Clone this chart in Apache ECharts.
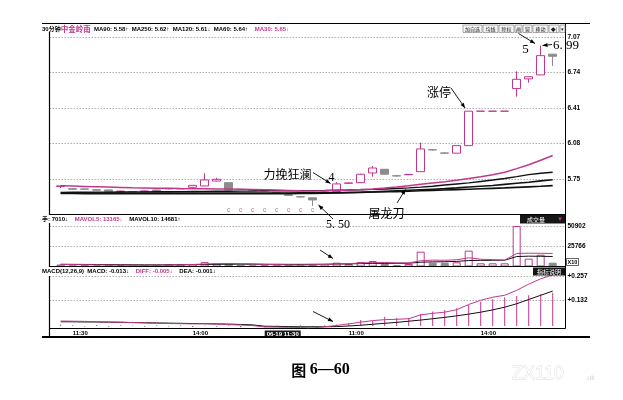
<!DOCTYPE html>
<html><head><meta charset="utf-8">
<script src="https://cdn.jsdelivr.net/npm/echarts@6/dist/echarts.min.js"></script>
<style>html,body{margin:0;padding:0;background:#fff}#c{width:623px;height:400px}</style>
</head><body><div id="c"></div>
<script>
// ---------- DATA ----------
const times = [
 '06-17 11:00','06-17 11:30','06-17 13:30','06-17 14:00','06-17 14:30','06-17 15:00',
 '06-18 10:00','06-18 10:30','06-18 11:00','06-18 11:30','06-18 13:30','06-18 14:00','06-18 14:30','06-18 15:00',
 '06-19 10:00','06-19 10:30','06-19 11:00','06-19 11:30','06-19 13:30','06-19 14:00','06-19 14:30','06-19 15:00',
 '06-20 10:00','06-20 10:30','06-20 11:00','06-20 11:30','06-20 13:30','06-20 14:00','06-20 14:30','06-20 15:00',
 '06-21 10:00','06-21 10:30','06-21 11:00','06-21 11:30','06-21 13:30','06-21 14:00','06-21 14:30','06-21 15:00',
 '06-24 10:00','06-24 10:30','06-24 11:00','06-24 11:30'];
const shownTimeIdx = [1, 11, 17, 24, 35];
const cursorIdx = 17;

const openP  = [5.680,5.660,5.658,5.650,5.648,5.634,5.633,5.636,5.648,5.658,5.658,5.673,5.685,5.731,5.716,5.655,5.648,5.640,5.622,5.602,5.585,5.575,5.625,5.635,5.710,5.716,5.806,5.840,5.780,5.790,5.818,6.022,5.992,5.990,6.060,6.380,6.380,6.380,6.590,6.680,6.717,6.910];
const closeP = [5.686,5.655,5.655,5.646,5.636,5.637,5.631,5.638,5.638,5.662,5.661,5.691,5.741,5.747,5.648,5.652,5.646,5.638,5.620,5.598,5.583,5.555,5.628,5.704,5.713,5.794,5.852,5.794,5.778,5.793,6.029,6.020,5.990,6.060,6.380,6.380,6.380,6.380,6.676,6.700,6.896,6.890];
const lowP   = [5.665,5.650,5.652,5.640,5.632,5.630,5.628,5.633,5.636,5.655,5.656,5.670,5.685,5.728,5.645,5.648,5.642,5.634,5.616,5.595,5.578,5.500,5.620,5.635,5.705,5.712,5.771,5.790,5.770,5.788,5.815,6.012,5.982,5.990,6.060,6.380,6.380,6.380,6.515,6.645,6.717,6.800];
const highP  = [5.690,5.662,5.660,5.652,5.650,5.640,5.636,5.641,5.650,5.665,5.664,5.693,5.803,5.762,5.718,5.658,5.650,5.642,5.625,5.605,5.590,5.578,5.635,5.720,5.718,5.800,5.871,5.842,5.786,5.796,6.087,6.030,5.998,6.062,6.380,6.380,6.380,6.380,6.750,6.700,6.990,6.910];

const ma30  = [5.686,5.684,5.681,5.678,5.675,5.672,5.669,5.667,5.665,5.663,5.661,5.660,5.659,5.658,5.656,5.654,5.652,5.650,5.647,5.644,5.641,5.639,5.640,5.643,5.647,5.652,5.658,5.666,5.676,5.688,5.700,5.712,5.724,5.738,5.754,5.771,5.790,5.812,5.846,5.882,5.924,5.968];
const ma60  = [5.626,5.627,5.627,5.628,5.628,5.629,5.630,5.630,5.631,5.632,5.633,5.634,5.635,5.636,5.636,5.637,5.638,5.640,5.640,5.641,5.641,5.642,5.643,5.645,5.647,5.650,5.653,5.657,5.662,5.667,5.674,5.683,5.694,5.704,5.714,5.727,5.740,5.755,5.772,5.790,5.803,5.812];
const ma120 = [5.615,5.615,5.614,5.614,5.614,5.613,5.613,5.613,5.613,5.613,5.613,5.613,5.613,5.613,5.613,5.613,5.613,5.613,5.614,5.614,5.615,5.616,5.618,5.620,5.623,5.626,5.630,5.635,5.640,5.645,5.650,5.655,5.660,5.667,5.675,5.683,5.690,5.700,5.710,5.720,5.732,5.743];
const ma250 = [5.619,5.619,5.619,5.619,5.619,5.619,5.620,5.620,5.620,5.620,5.620,5.620,5.620,5.620,5.620,5.620,5.620,5.620,5.620,5.620,5.621,5.621,5.622,5.623,5.625,5.627,5.629,5.631,5.633,5.636,5.640,5.643,5.647,5.651,5.655,5.659,5.663,5.667,5.672,5.677,5.682,5.688];

const cMarkIdx = [14,15,16,17,18,19,20,21];
const cMarkPrice = 5.462;

const volume  = [2500,1500,1800,1200,2200,1500,1200,1400,2000,3000,2800,3200,5500,3500,4000,2000,1500,1800,2200,2000,1600,3000,3000,4800,3100,5700,6900,4000,1900,3100,18600,4800,4800,5300,19900,4000,4000,4000,50902,9800,14800,4800];
const mavol5  = [2600,2400,2200,2000,1900,1700,1600,1500,1700,1900,2100,2500,3200,3600,3800,3600,3300,2700,2300,1900,1800,2100,2500,3200,3600,4400,4900,5000,4600,4500,7200,8000,7800,8500,10900,9200,8600,8000,16400,16700,16600,16400];
const mavol10 = [2800,2700,2600,2500,2400,2300,2200,2100,2100,2100,2200,2300,2500,2700,2900,2900,2900,2800,2800,2700,2700,2800,2900,3100,3300,3600,3900,4000,4000,4100,5400,5800,6000,6400,7500,7700,7800,7900,12500,13000,12800,12600];

const diff = [0.026,0.025,0.024,0.022,0.021,0.020,0.018,0.016,0.014,0.013,0.012,0.011,0.012,0.010,0.007,0.005,0.002,-0.005,-0.006,-0.007,-0.008,-0.010,-0.004,0.003,0.011,0.020,0.028,0.033,0.035,0.038,0.058,0.066,0.072,0.085,0.112,0.134,0.150,0.160,0.186,0.218,0.246,0.266];
const dea  = [0.022,0.022,0.021,0.021,0.020,0.019,0.018,0.017,0.016,0.015,0.014,0.013,0.012,0.011,0.010,0.008,0.006,-0.001,-0.002,-0.003,-0.004,-0.004,-0.004,-0.003,0.000,0.004,0.009,0.014,0.019,0.025,0.031,0.038,0.045,0.053,0.062,0.072,0.084,0.098,0.116,0.138,0.160,0.182];
const macd = [0.006,0.004,-0.003,0.005,-0.004,0.004,0.003,-0.004,0.004,-0.003,0.004,-0.005,0.003,-0.004,0.004,-0.006,0.004,-0.006,0.003,-0.005,0.004,-0.006,0.004,0.008,0.015,0.031,0.026,0.048,0.042,0.042,0.063,0.075,0.083,0.092,0.109,0.127,0.139,0.150,0.156,0.160,0.166,0.173];

const priceTicks = [5.75, 6.08, 6.41, 6.74, 7.07];
const volTicks = [25766, 50902];
const macdTicks = [0.132, 0.257];
const macdCurrent = 0.173;

// ---------- STYLE ----------
const MAG = '#c2378e', GR = '#8c8c8c', BK = '#111';
const LF = '"Liberation Sans","DejaVu Sans","Noto Sans CJK SC",sans-serif';
const CJK = '"Noto Sans CJK SC",sans-serif';
const SERIF = '"Liberation Serif","DejaVu Serif","Noto Sans CJK SC",serif';
const FL = 49.5, FR = 565.5, DL = 54.7, DW = 504;

const near = (arr, v, tol) => arr.some(t => Math.abs(t - v) < tol);
const dotted = {show:true, showMinLine:false, showMaxLine:false, lineStyle:{color:'#9a9a9a', type:[1.5,1.5], width:0.8}};
const lbl = {fontSize:6.5, fontWeight:'bold', color:'#000', fontFamily:LF, margin:2};

const candleData = openP.map((o,i)=>[o, closeP[i], lowP[i], highP[i]]);
const volData = volume.map((v,i)=>({value:v, itemStyle: closeP[i] >= openP[i]
  ? {color:'#fff', borderColor:MAG, borderWidth:1}
  : {color:GR, borderColor:GR, borderWidth:1}}));
const macdData = macd.map(v=>({value:v, itemStyle:{color: v>=0 ? MAG : '#555'}}));

function arrow(x1,y1,x2,y2){
  const a=Math.atan2(y2-y1,x2-x1), L=5, w=2;
  return [
    {type:'line', z:100, shape:{x1,y1,x2,y2}, style:{stroke:'#000', lineWidth:0.9}},
    {type:'polygon', z:100, shape:{points:[[x2,y2],
      [x2-L*Math.cos(a)+w*Math.sin(a), y2-L*Math.sin(a)-w*Math.cos(a)],
      [x2-L*Math.cos(a)-w*Math.sin(a), y2-L*Math.sin(a)+w*Math.cos(a)]]}, style:{fill:'#000'}}
  ];
}
function txt(x,y,text,font,fill,align){
  return {type:'text', z:100, x, y, style:{text, font, fill:fill||'#000', align:align||'center', verticalAlign:'middle'}};
}
function hline(y,x1,x2,w){return {type:'line', z:90, shape:{x1,y1:y,x2,y2:y}, style:{stroke:'#000', lineWidth:w||1}};}
function vline(x,y1,y2,w){return {type:'line', z:90, shape:{x1:x,y1,x2:x,y2}, style:{stroke:'#000', lineWidth:w||1}};}

const buttons = [['加自选',463,19],['均线',483,15],['除权',499,15],['画',515,7],['窗',523,9],['移动',533,15],['◆|',549,10],['▾',560,5]];
const btnEls = [];
buttons.forEach(([t,x,w])=>{
  btnEls.push({type:'rect', z:95, shape:{x, y:25, width:w, height:7.5}, style:{fill:'#f4f4f4', stroke:'#777', lineWidth:0.6}});
  btnEls.push(txt(x+w/2, 28.8, t, '5px '+CJK, '#222'));
});

const headRich = {a:{fontSize:6, fontWeight:'bold', fill:'#000', fontFamily:LF},
                  b:{fontSize:7.5, fontWeight:'bold', fill:MAG, fontFamily:CJK},
                  m:{fontSize:6, fontWeight:'bold', fill:MAG, fontFamily:LF}};

const graphics = [
  hline(23.5, 42, 590), vline(FL, 32, 215, 1.2), vline(FL, 223, 267, 1.2), vline(FL, 276, 337, 1.2), vline(FR, 23.5, 328.5),
  hline(214.5, FL, FR), hline(266.5, FL, FR), hline(328.5, FL, FR), hline(337, 42, 590, 2),
  {type:'text', z:96, x:42, y:29, style:{
    text:'{a|30分钟}{b|中金岭南} {a|MA90: 5.58↑  MA250: 5.62↑  MA120: 5.61↓  MA60: 5.64↑}  {m|MA30: 5.65↓}',
    verticalAlign:'middle', rich:headRich}},
  {type:'text', z:96, x:42, y:219, style:{
    text:'{a|手: 7010↓}  {m|MAVOL5: 13165↓}  {a|MAVOL10: 14681↑}',
    verticalAlign:'middle', rich:headRich}},
  {type:'text', z:96, x:42, y:271.5, style:{
    text:'{a|MACD(12,26,9)  MACD: -0.013↓}  {m|DIFF: -0.005↓}  {a|DEA: -0.001↓}',
    verticalAlign:'middle', rich:headRich}},
  ...btnEls,
  {type:'rect', z:95, shape:{x:520, y:215, width:45, height:8.5}, style:{fill:'#161616'}},
  txt(536, 219.3, '成交量', '6px '+CJK, '#fff'),
  txt(560, 219.3, '▼', '6px '+LF, MAG),
  {type:'rect', z:95, shape:{x:533, y:267.5, width:32, height:8}, style:{fill:'#161616'}},
  txt(549, 271.5, '指标说明', '6px '+CJK, '#fff'),
  {type:'rect', z:95, shape:{x:566.5, y:258.5, width:12, height:7}, style:{fill:'#fff', stroke:'#000', lineWidth:0.6}},
  txt(572.5, 262, 'X10', 'bold 5.5px '+LF, '#000'),
  // annotations
  txt(287.5, 174, '力挽狂澜', '12px '+CJK), ...arrow(313,172.5,330.5,183.5),
  txt(331.5, 177.5, '4', '12px '+SERIF),
  txt(439, 92, '涨停', '12px '+CJK), ...arrow(451,88,465,108),
  txt(386.5, 213, '屠龙刀', '12px '+CJK), ...arrow(397,203,405.5,189.5),
  txt(338, 224.5, '5. 50', '12px '+SERIF), ...arrow(333,219,318.5,205),
  txt(525.5, 49.5, '5', '13px '+SERIF), ...arrow(518.5,33.5,535,43.5),
  txt(553, 45.5, '6. 99', '13px '+SERIF, '#000', 'left'), ...arrow(552,44.5,542.5,45.5),
  ...arrow(320,250,333,258.5),
  ...arrow(313,311.5,333,321.5),
  // caption & watermark
  {type:'text', z:100, x:320.5, y:370, style:{text:'{a|图 }{b|6—60}', align:'center', verticalAlign:'middle',
    rich:{a:{fontSize:15, fontWeight:'bold', fontFamily:CJK, fill:'#000'}, b:{fontSize:16, fontWeight:'bold', fontFamily:SERIF, fill:'#000'}}}},
  {type:'text', z:100, x:512, y:374, style:{text:'ZX110', font:'18px '+LF, fill:'#fff', stroke:'#d8d8d8', lineWidth:0.8, align:'left', verticalAlign:'middle'}},
  txt(590, 378, '.uk', '7px '+LF, '#d4d4d4')
];

const chart = echarts.init(document.getElementById('c'));
chart.setOption({
  animation:false,
  backgroundColor:'#fff',
  grid:[
    {left:FL, width:FR-FL, top:24, height:190.5},
    {left:FL, width:FR-FL, top:214.5, height:51.5},
    {left:FL, width:FR-FL, top:266.5, height:58.16},
    {left:DL, width:DW, top:24, height:190.5},
    {left:DL, width:DW, top:214.5, height:52},
    {left:DL, width:DW, top:266.5, height:62}
  ],
  xAxis:[
    {type:'value', gridIndex:0, show:false, min:0, max:1},
    {type:'value', gridIndex:1, show:false, min:0, max:1},
    {type:'value', gridIndex:2, show:false, min:0, max:1},
    {type:'category', gridIndex:3, data:times, boundaryGap:true, show:false},
    {type:'category', gridIndex:4, data:times, boundaryGap:true, show:false},
    {type:'category', gridIndex:5, data:times, boundaryGap:true,
      axisLine:{show:false}, axisTick:{show:false}, splitLine:{show:false},
      axisLabel:{show:true, margin:2, align:'left',
        interval:(i)=>shownTimeIdx.includes(i),
        formatter:(v,i)=> i===cursorIdx ? '{cur|'+v+'}' : '{t|'+v.slice(6)+'}',
        rich:{cur:{backgroundColor:'#1a1a1a', color:'#fff', padding:[1,2,0,2], fontSize:6, fontWeight:'bold', fontFamily:LF},
              t:{fontSize:6, fontWeight:'bold', color:'#000', fontFamily:LF}}}}
  ],
  yAxis:[
    {type:'value', gridIndex:0, position:'right', min:5.42, max:7.19, interval:0.33, scale:true,
      axisLine:{show:false}, axisTick:{show:false}, splitLine:dotted,
      axisLabel:{...lbl, formatter:v=> near(priceTicks,v,1e-4) ? v.toFixed(2) : ''}},
    {type:'value', gridIndex:1, position:'right', min:630, max:65364, interval:25136, scale:true,
      axisLine:{show:false}, axisTick:{show:false}, splitLine:dotted,
      axisLabel:{...lbl, formatter:v=> near(volTicks,v,1) ? String(Math.round(v)) : ''}},
    {type:'value', gridIndex:2, position:'right', min:0.007, max:0.31, interval:0.125, scale:true,
      axisLine:{show:false}, axisTick:{show:false}, splitLine:dotted,
      axisLabel:{...lbl, formatter:v=> near(macdTicks,v,1e-5) ? '+'+v.toFixed(3) : ''}},
    {type:'value', gridIndex:3, min:5.42, max:7.19, show:false, splitLine:{show:false}},
    {type:'value', gridIndex:4, min:0, max:65364, show:false, splitLine:{show:false}},
    {type:'value', gridIndex:5, min:-0.013, max:0.31, show:false, splitLine:{show:false}}
  ],
  series:[
    {type:'candlestick', xAxisIndex:3, yAxisIndex:3, data:candleData, barWidth:8,
      itemStyle:{color:'#fff', color0:GR, borderColor:MAG, borderColor0:GR, borderColorDoji:MAG, borderWidth:1}},
    {type:'line', xAxisIndex:3, yAxisIndex:3, data:ma250, symbol:'none', lineStyle:{color:BK, width:1.6}},
    {type:'line', xAxisIndex:3, yAxisIndex:3, data:ma120, symbol:'none', lineStyle:{color:BK, width:1.6}},
    {type:'line', xAxisIndex:3, yAxisIndex:3, data:ma60, symbol:'none', lineStyle:{color:BK, width:1.4}},
    {type:'line', xAxisIndex:3, yAxisIndex:3, data:ma30, symbol:'none', lineStyle:{color:MAG, width:1.5}},
    {type:'scatter', xAxisIndex:3, yAxisIndex:3, data:cMarkIdx.map(i=>[i, cMarkPrice]), symbolSize:6,
      itemStyle:{color:'rgba(0,0,0,0)'},
      label:{show:true, position:'inside', formatter:'c', color:MAG, fontSize:6.5, fontFamily:LF}},
    {type:'bar', xAxisIndex:4, yAxisIndex:4, data:volData, barWidth:8},
    {type:'line', xAxisIndex:4, yAxisIndex:4, data:mavol10, symbol:'none', lineStyle:{color:BK, width:1}},
    {type:'line', xAxisIndex:4, yAxisIndex:4, data:mavol5, symbol:'none', lineStyle:{color:MAG, width:1}},
    {type:'bar', xAxisIndex:5, yAxisIndex:5, data:macdData, barWidth:1,
      markLine:{silent:true, symbol:'none', lineStyle:{opacity:0},
        label:{position:'end', distance:8, formatter:'+'+macdCurrent.toFixed(3), backgroundColor:'#d0d0d0',
          color:'#000', fontSize:6.5, fontWeight:'bold', fontFamily:LF, padding:[1,2]},
        data:[{yAxis:macdCurrent}]}},
    {type:'line', xAxisIndex:5, yAxisIndex:5, data:dea, symbol:'none', lineStyle:{color:BK, width:1}},
    {type:'line', xAxisIndex:5, yAxisIndex:5, data:diff, symbol:'none', lineStyle:{color:MAG, width:1}}
  ],
  graphic:graphics
});
</script></body></html>
